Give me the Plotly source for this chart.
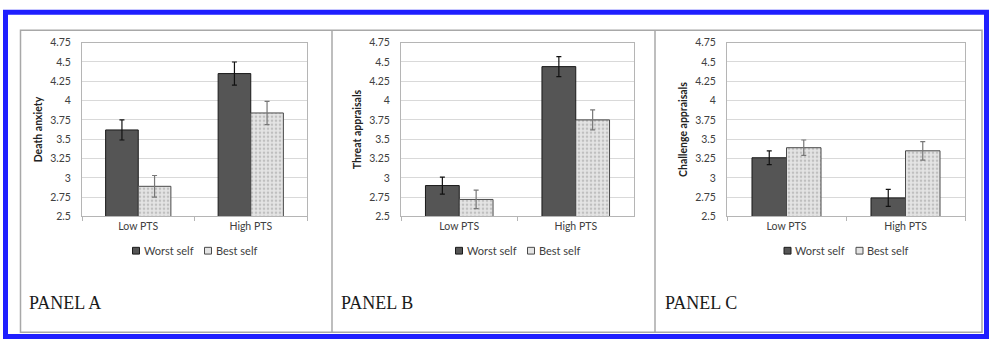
import plotly.graph_objects as go

# ---------------- data ----------------
categories = ["Low PTS", "High PTS"]
series_names = ["Worst self", "Best self"]

a_worst = [3.62, 4.35]
a_worst_err = [0.13, 0.15]
a_best = [2.89, 3.84]
a_best_err = [0.14, 0.15]

b_worst = [2.90, 4.44]
b_worst_err = [0.11, 0.13]
b_best = [2.72, 3.75]
b_best_err = [0.12, 0.13]

c_worst = [3.26, 2.74]
c_worst_err = [0.09, 0.11]
c_best = [3.39, 3.35]
c_best_err = [0.10, 0.12]

y_titles = ["Death anxiety", "Threat appraisals", "Challenge appraisals"]
panel_labels = ["PANEL A", "PANEL B", "PANEL C"]
tick_vals = [2.5, 2.75, 3, 3.25, 3.5, 3.75, 4, 4.25, 4.5, 4.75]
tick_text = ["2.5", "2.75", "3", "3.25", "3.5", "3.75", "4", "4.25", "4.5", "4.75"]

# ---------------- layout helpers ----------------
W, H = 989, 346


def px(x):
    return x / W


def py(y):
    return 1 - y / H


plot_x = [(82, 307), (401, 634), (727, 965)]
plot_y = (38, 218)

panels = [
    (a_worst, a_worst_err, a_best, a_best_err),
    (b_worst, b_worst_err, b_best, b_best_err),
    (c_worst, c_worst_err, c_best, c_best_err),
]

WORST_FILL = "#555555"
BEST_FILL = "#e4e4e4"
FONT = "Lato, 'Open Sans', sans-serif"

fig = go.Figure()
shapes = []
annotations = []

for i, (w, we, b, be) in enumerate(panels):
    xa = "x" if i == 0 else f"x{i+1}"
    ya = "y" if i == 0 else f"y{i+1}"
    fig.add_trace(go.Bar(
        x=categories, y=w, name=series_names[0], xaxis=xa, yaxis=ya,
        marker=dict(color=WORST_FILL, line=dict(color="#1a1a1a", width=1)),
        error_y=dict(type="data", array=we, color="#111111", thickness=1.2, width=2.5),
        showlegend=False,
    ))
    fig.add_trace(go.Bar(
        x=categories, y=b, name=series_names[1], xaxis=xa, yaxis=ya,
        marker=dict(color=BEST_FILL, line=dict(color="#4a4a4a", width=1),
                    pattern=dict(shape=".", fgcolor="#9a9a9a", bgcolor=BEST_FILL,
                                 size=4, solidity=0.35)),
        error_y=dict(type="data", array=be, color="#777777", thickness=1.2, width=2.5),
        showlegend=False,
    ))

    x0, x1 = plot_x[i]
    axis_common = dict(showline=True, mirror=True, linecolor="#b5b5b5", linewidth=1)
    fig.layout[f"xaxis{'' if i == 0 else i+1}"] = dict(
        domain=[px(x0), px(x1)], anchor=ya, type="category",
        ticks="outside", tickson="boundaries", ticklen=4, tickcolor="#b5b5b5",
        tickfont=dict(family=FONT, size=10.5, color="#404040"),
        showgrid=False, **axis_common,
    )
    fig.layout[f"yaxis{'' if i == 0 else i+1}"] = dict(
        domain=[py(plot_y[1]), py(plot_y[0])], anchor=xa,
        range=[2.5, 4.75], tickvals=tick_vals, ticktext=tick_text,
        ticks="", ticklabelstandoff=8,
        tickfont=dict(family=FONT, size=10.5, color="#404040"),
        showgrid=True, gridcolor="#d9d9d9", gridwidth=1, zeroline=False,
        title=dict(text=f"<b>{y_titles[i]}</b>", standoff=5,
                   font=dict(family=FONT, size=10.5, color="#222222")),
        **axis_common,
    )

    # legend drawn under each panel
    cx = (x0 + x1) / 2
    ly = 253.5
    items = [(cx - 62, series_names[0], WORST_FILL, "#1a1a1a"),
             (cx + 10, series_names[1], BEST_FILL, "#4a4a4a")]
    for sx, name, fill, lc in items:
        shapes.append(dict(type="rect", xref="paper", yref="paper",
                           x0=px(sx), x1=px(sx + 7), y0=py(ly + 3.5), y1=py(ly - 3.5),
                           fillcolor=fill, line=dict(color=lc, width=1)))
        annotations.append(dict(text=name, xref="paper", yref="paper",
                                x=px(sx + 9), y=py(ly), xanchor="left", yanchor="middle",
                                showarrow=False,
                                font=dict(family=FONT, size=11, color="#404040")))

    # panel label
    annotations.append(dict(text=panel_labels[i], xref="paper", yref="paper",
                            x=px([27, 339, 663][i]), y=py(308),
                            xanchor="left", yanchor="middle", showarrow=False,
                            font=dict(family="'Liberation Serif', 'Times New Roman', serif",
                                      size=18, color="#1a1a1a")))

# panel frames
shapes.append(dict(type="rect", xref="paper", yref="paper",
                   x0=px(20.5), x1=px(982), y0=py(338), y1=py(25),
                   line=dict(color="#a8a8a8", width=1.5)))
for dx in (332, 655):
    shapes.append(dict(type="line", xref="paper", yref="paper",
                       x0=px(dx), x1=px(dx), y0=py(338), y1=py(25),
                       line=dict(color="#a8a8a8", width=1.5)))
# blue outer border
shapes.append(dict(type="rect", xref="paper", yref="paper",
                   x0=px(5.5), x1=px(986.5), y0=py(342.5), y1=py(6.5),
                   line=dict(color="#1f1fff", width=5)))

fig.update_layout(
    autosize=True,
    margin=dict(l=0, r=0, t=0, b=0),
    paper_bgcolor="white", plot_bgcolor="white",
    barmode="group", bargap=0.42, bargroupgap=0,
    shapes=shapes, annotations=annotations,
    showlegend=False,
)

fig.write_html(
    "out.html",
    default_width="100vw",
    default_height="100vh",
    config={"displayModeBar": False},
    post_script="document.body.style.margin='0';document.body.style.padding='0';"
                "document.body.style.overflow='hidden';",
)
